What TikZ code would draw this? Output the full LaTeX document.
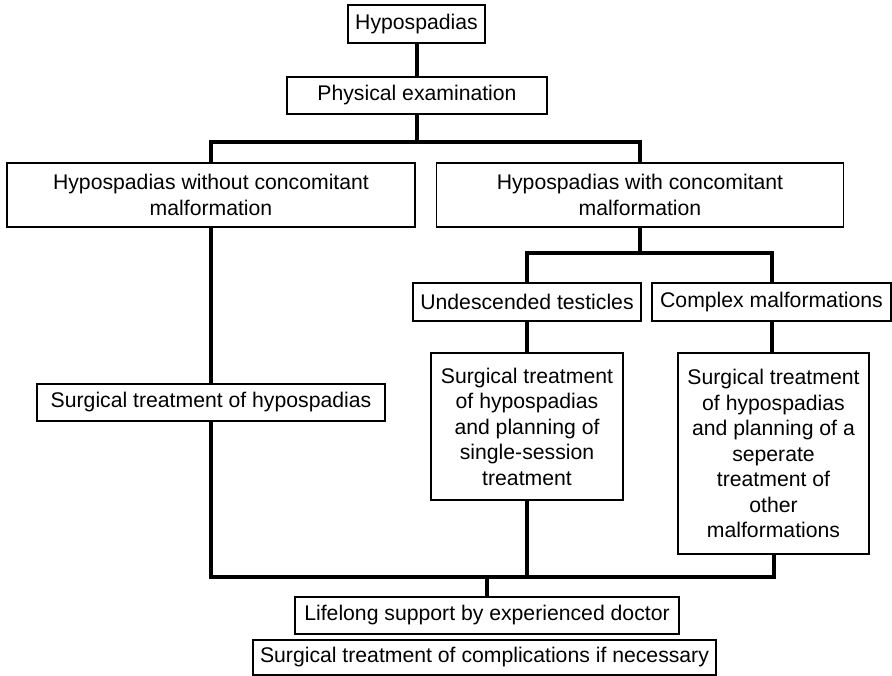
\documentclass[tikz,border=0pt]{standalone}
\usepackage{fontspec}
\setmainfont{Liberation Sans}
\usepackage{tikz}

\begin{document}
\begin{tikzpicture}[x=1pt, y=-1pt,
    box/.style={draw, line width=1.3pt, align=center, inner sep=0pt,
        font=\fontsize{21.2}{25.5}\selectfont},
    link/.style={line width=4pt}]
\useasboundingbox (0,0) rectangle (892,676);
% boxes, top to bottom
\node[box, minimum width=137, minimum height=38] (hyp) at (416.5,24) {Hypospadias};
\node[box, minimum width=260, minimum height=37] (phys) at (417,95.5) {Physical examination};
\node[box, minimum width=408, minimum height=64] (noco) at (211,195) {Hypospadias without concomitant\\malformation};
\node[box, minimum width=407, minimum height=64] (conc) at (640,195) {Hypospadias with concomitant\\malformation};
\node[box, minimum width=348, minimum height=37] (surg) at (211,402.5) {Surgical treatment of hypospadias};
\node[box, minimum width=228, minimum height=38] (undesc) at (527,302) {Undescended testicles};
\node[box, minimum width=239, minimum height=38] (complex) at (771.5,302) {Complex malformations};
\node[box, minimum width=192, minimum height=147] (single) at (527,426.5) {Surgical treatment\\of hypospadias\\and planning of\\single-session\\treatment};
\node[box, minimum width=191, minimum height=201] (separate) at (773.5,453.5) {Surgical treatment\\of hypospadias\\and planning of a\\seperate\\treatment of\\other\\malformations};
\node[box, minimum width=384, minimum height=37] (life) at (487,615.5) {Lifelong support by experienced doctor};
\node[box, minimum width=463, minimum height=35] (compl) at (484.5,657.5) {Surgical treatment of complications if necessary};

% junctions
\coordinate (split) at (417,142);
\coordinate (split2) at (640,253);
\coordinate (join) at (487,577);

% connectors, kept straight down
\foreach \a/\b in {hyp/phys, noco/surg, undesc/single, complex/separate}{
    \draw[link] (\a.south) -- (\a.south |- \b.north);
}
\draw[link] (phys.south) -- (split);
\draw[link] (noco.north) |- (split) -| (conc.north);
\draw[link] (conc.south) -- (split2);
\draw[link] (undesc.north) |- (split2) -| (complex.north);
\draw[link] (surg.south) |- (join) -| (separate.south);
\draw[link] (single.south) -- (single.south |- join);
\draw[link] (join) -- (life.north);
\end{tikzpicture}
\end{document}
